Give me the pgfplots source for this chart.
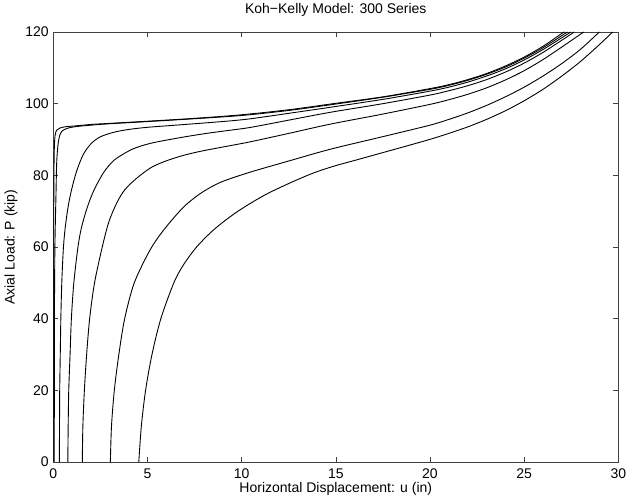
\documentclass[border=0pt]{standalone}
\usepackage{pgfplots}
\pgfplotsset{compat=1.18}
\usepackage{fontspec}
\setmainfont{Liberation Sans}
\begin{document}
\begin{tikzpicture}
\useasboundingbox (0,0) rectangle (628bp,498bp);
\begin{axis}[
  at={(53.3bp,36bp)}, anchor=south west,
  scale only axis, width=565bp, height=430bp,
  xmin=0, xmax=30, ymin=0, ymax=120,
  xtick={0,5,...,30}, ytick={0,20,...,120},
  tick align=inside, major tick length=5bp,
  /pgf/number format/assume math mode=true,
  tick label style={font=\fontsize{14bp}{16bp}\selectfont},
  label style={font=\fontsize{14bp}{16bp}\selectfont},
  title style={font=\fontsize{14bp}{16bp}\selectfont},
  title={Koh−Kelly Model: 300 Series},
  xlabel={Horizontal Displacement: u (in)},
  ylabel={Axial Load: P (kip)},
  axis line style={black!75, line width=0.8bp},
  every tick/.style={black!75, line width=0.6bp},
  xticklabel style={yshift=-3bp},
  yticklabel style={xshift=-1bp},
  xlabel style={yshift=3bp},
  ylabel style={yshift=1bp},
  title style={yshift=6bp},
  cycle list={{black,mark=none}},
  every axis plot/.append style={line width=0.9bp, smooth, tension=0.5},
]
% u0 = 0.01
\addplot coordinates {(0.01,0) (0.011,40) (0.017,60) (0.028,74) (0.04,83.5) (0.06,88.5) (0.1,91.3) (0.18,92.6) (0.35,93.2) (0.7,93.6) (1.2,93.8) (2,94.2) (3,94.5) (5,95.1) (7.5,95.9) (10,96.9) (12.5,98.3) (15,100.1) (17.5,101.9) (20,104.2) (21,105.3) (22,106.7) (23,108.4) (24,110.5) (25,113.0) (26,116.0) (27,119.6) (27.13,120)};
% u0 = 0.05
\addplot coordinates {(0.05,0) (0.055,20) (0.06,40) (0.085,60) (0.14,74) (0.18,83.5) (0.25,88.5) (0.35,91.3) (0.5,92.5) (0.8,93.2) (1.2,93.6) (2,94.0) (3,94.4) (5,95.0) (7.5,95.8) (10,96.7) (12.5,98.1) (15,99.9) (17.5,101.8) (20,104.0) (21,105.1) (22,106.5) (23,108.2) (24,110.2) (25,112.7) (26,115.6) (27,119.0) (27.3,120)};
% u0 = 0.32
\addplot coordinates {(0.32,0) (0.33,10) (0.34,20) (0.37,30) (0.40,40) (0.45,50) (0.53,59.2) (0.62,64.8) (0.75,70) (0.89,74.1) (1.08,78.3) (1.3,82.1) (1.6,85.9) (2.0,88.8) (2.48,90.7) (3.2,92.0) (4,92.8) (5,93.4) (6.5,94.0) (8,94.6) (9.41,95.2) (10.5,95.8) (12.5,97.3) (14.72,99.0) (17.5,101.2) (20,103.5) (21,104.6) (22,106.0) (23,107.7) (24,109.7) (25,112.2) (26,115.1) (27,118.4) (27.48,120)};
% u0 = 0.77
\addplot coordinates {(0.77,0) (0.79,10) (0.82,20) (0.89,30) (0.96,40) (1.09,50) (1.31,60) (1.5,65.5) (1.8,71) (2.13,75.5) (2.6,80.2) (3.0,83.0) (3.37,84.8) (4.2,87.3) (5.14,88.9) (6.5,90.3) (8,91.6) (9.41,92.6) (10.5,93.4) (12.5,95.4) (14.72,97.6) (17.5,100.0) (20,102.4) (21,103.6) (22,105.0) (23,106.7) (24,108.8) (25,111.3) (26,114.3) (27,117.7) (27.66,120)};
% u0 = 1.54
\addplot coordinates {(1.54,0) (1.57,10) (1.65,20) (1.77,30) (1.93,40) (2.19,50) (2.6,60) (2.95,67) (3.37,72.3) (3.8,76.0) (4.43,79.2) (5.2,82.2) (6.03,84.1) (7,85.7) (8,86.9) (9.41,88.3) (10.5,89.4) (12.5,91.7) (14.72,94.3) (17.5,97.1) (20,99.8) (21,101.1) (22,102.6) (23,104.4) (24,106.6) (25,109.2) (26,112.3) (27,115.8) (28.16,120)};
% u0 = 3.03
\addplot coordinates {(3.03,0) (3.09,10) (3.24,20) (3.48,30) (3.79,40) (4.3,50) (5.14,59.2) (5.9,65) (6.91,71.1) (7.8,74.9) (8.69,77.6) (9.41,79.1) (10.46,80.9) (11.17,82.0) (12.5,84.0) (14.72,87.3) (17.5,90.8) (20,94.0) (21,95.6) (22,97.4) (23,99.5) (24,101.9) (25,104.6) (26,107.7) (27,111.2) (28,115.2) (28.99,120)};
% u0 = 4.54
\addplot coordinates {(4.54,0) (4.675,10) (4.90,20) (5.24,30) (5.71,40) (6.40,50) (6.91,55) (7.61,60) (8.56,65) (9.81,70) (11.41,75) (13.5,80) (14.8,82.4) (16.1,84.3) (17.4,86.2) (18.7,88.1) (20.04,90.1) (21,91.7) (22,93.5) (23,95.6) (24,98.0) (25,100.8) (26,104.0) (27,107.7) (28,111.8) (29,116.5) (29.7,120)};
\end{axis}
\end{tikzpicture}
\end{document}
